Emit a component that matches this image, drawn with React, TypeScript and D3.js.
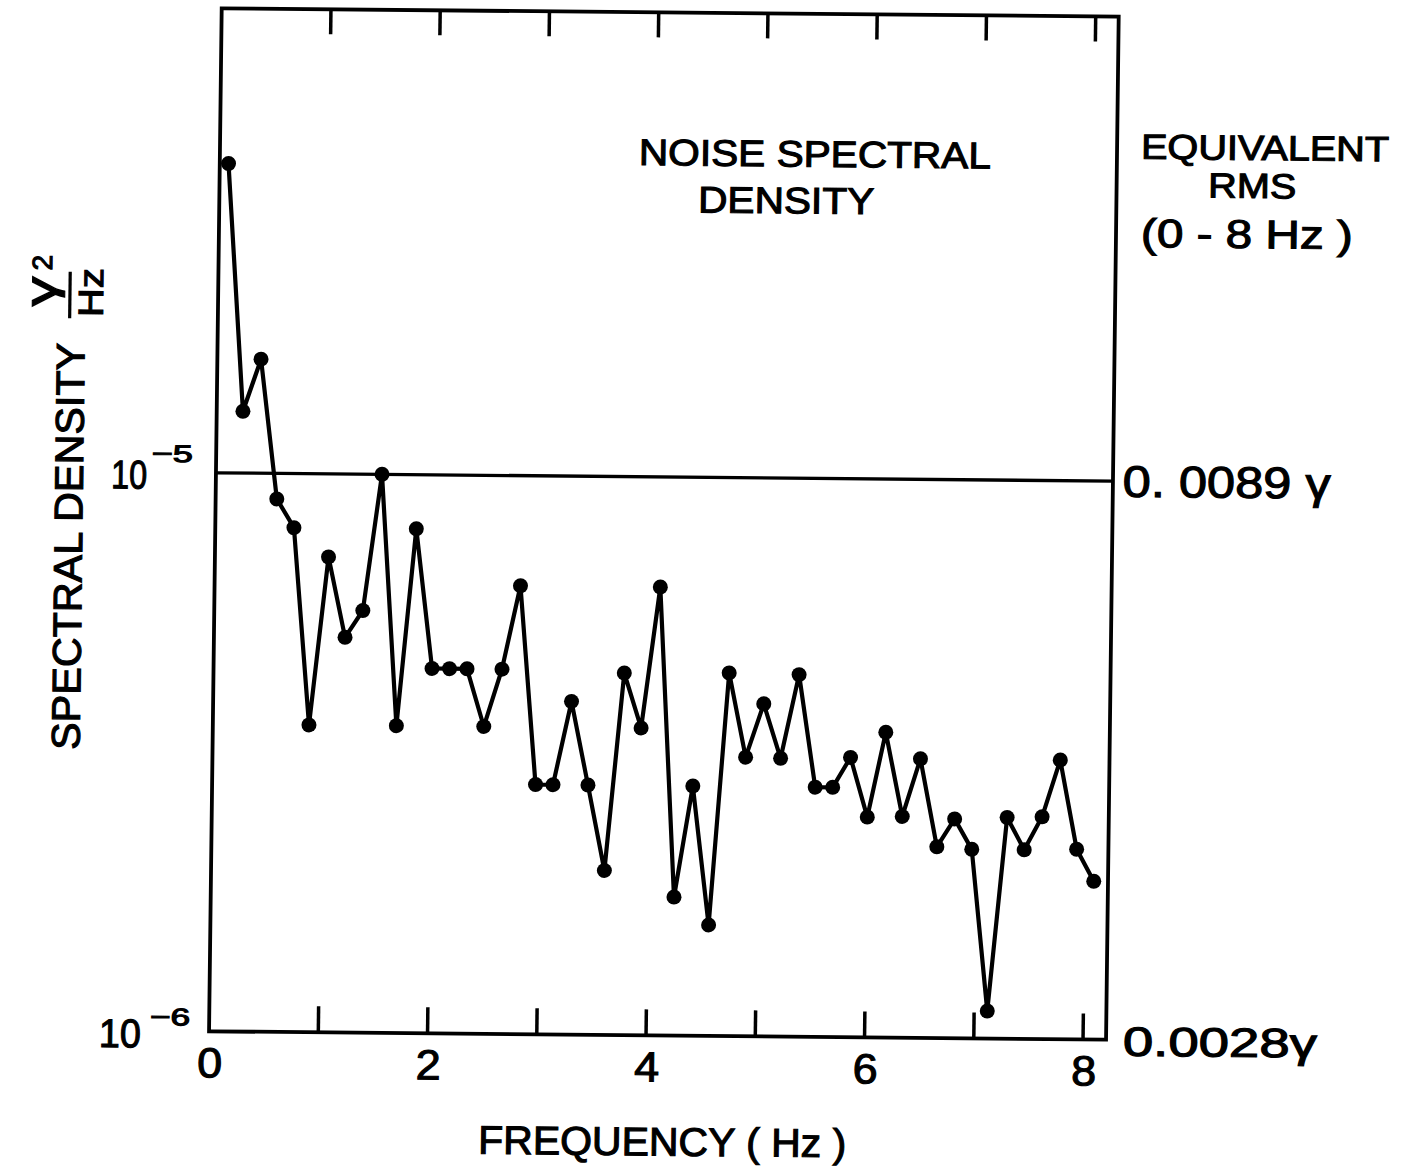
import React from 'react';
import * as d3 from 'd3';

// frequency of each plotted estimate (Hz)
const frequencies = [
  0.08, 0.24, 0.40, 0.56, 0.72, 0.88, 1.04, 1.20, 1.36, 1.52,
  1.68, 1.84, 2.00, 2.16, 2.32, 2.48, 2.64, 2.80, 2.96, 3.12,
  3.28, 3.44, 3.60, 3.76, 3.92, 4.08, 4.24, 4.40, 4.56, 4.72,
  4.88, 5.04, 5.20, 5.36, 5.52, 5.68, 5.84, 6.00, 6.16, 6.32,
  6.48, 6.64, 6.80, 6.96, 7.12, 7.28, 7.44, 7.60, 7.76, 7.92, 8.08,
];

// spectral density (gamma^2 / Hz)
const spectralDensity = [
  3.58e-5, 1.29e-5, 1.6e-5, 9.0e-6, 8.0e-6, 3.55e-6, 7.1e-6, 5.1e-6, 5.7e-6, 1.0e-5,
  3.55e-6, 8.0e-6, 4.5e-6, 4.5e-6, 4.5e-6, 3.55e-6, 4.5e-6, 6.35e-6, 2.8e-6, 2.8e-6,
  3.95e-6, 2.8e-6, 1.97e-6, 4.45e-6, 3.55e-6, 6.35e-6, 1.77e-6, 2.8e-6, 1.58e-6, 4.47e-6,
  3.16e-6, 3.94e-6, 3.15e-6, 4.45e-6, 2.8e-6, 2.8e-6, 3.17e-6, 2.48e-6, 3.52e-6, 2.49e-6,
  3.16e-6, 2.2e-6, 2.47e-6, 2.18e-6, 1.12e-6, 2.49e-6, 2.18e-6, 2.5e-6, 3.16e-6, 2.19e-6, 1.92e-6,
];

const topTicks = [1, 2, 3, 4, 5, 6, 7, 8];
const bottomTicks = [1, 2, 3, 4, 5, 6, 7, 8];
const xTickLabels = [0, 2, 4, 6, 8];
const referenceLevel = 1e-5;
const rightLabels = ['0. 0089 γ', '0.0028γ'];

const W = 897;
const H = 1023;
const FONT = "'Liberation Sans', Arial, sans-serif";

// heavier strokes, like the hand lettering of the original
const ink = { fill: '#000', stroke: '#000', strokeWidth: 1.1 };

const App: React.FC = () => {
  const x = d3.scaleLinear().domain([0, 8]).range([0, 874]);
  const y = d3.scaleLog().domain([1e-6, 1e-5]).range([H, 464.5]);

  const line = d3.line<number>()
    .x((_, i) => x(frequencies[i]))
    .y(d => y(d));

  return (
    <svg
      width={1407}
      height={1175}
      style={{ position: 'absolute', left: 0, top: 0, display: 'block' }}
      fontFamily={FONT}
    >
      <rect width={1407} height={1175} fill="#fff" />
      {/* the scanned page is slightly skewed */}
      <g transform="matrix(1 0.00931 -0.01237 1 221.7 8.3)">
        <rect x={0} y={0} width={W} height={H} fill="none" stroke="#000" strokeWidth={3.8} />

        <line x1={0} x2={W} y1={y(referenceLevel)} y2={y(referenceLevel)} stroke="#000" strokeWidth={3.3} />

        {topTicks.map(t => (
          <line key={'t' + t} x1={x(t)} x2={x(t)} y1={0} y2={25} stroke="#000" strokeWidth={3.5} />
        ))}
        {bottomTicks.map(t => (
          <line key={'b' + t} x1={x(t)} x2={x(t)} y1={H} y2={H - 26} stroke="#000" strokeWidth={3.5} />
        ))}

        <path d={line(spectralDensity) || ''} fill="none" stroke="#000" strokeWidth={4.2} strokeLinejoin="round" />
        {spectralDensity.map((d, i) => (
          <circle key={i} cx={x(frequencies[i])} cy={y(d)} r={7.5} fill="#000" />
        ))}

        {/* x tick labels */}
        {xTickLabels.map(v => (
          <text key={'l' + v} x={x(v) + 1} y={1069} fontSize={42} textAnchor="middle"
            textLength={25} lengthAdjust="spacingAndGlyphs" {...ink}>{v}</text>
        ))}
        <text x={454.5} y={1143} fontSize={40} textAnchor="middle" textLength={368} lengthAdjust="spacingAndGlyphs" {...ink}>
          FREQUENCY ( Hz )
        </text>

        {/* left decade labels */}
        <text x={-104.8} y={481} fontSize={40} textLength={36} lengthAdjust="spacingAndGlyphs" {...ink}>10</text>
        <text x={-64.4} y={454} fontSize={24} textLength={41} lengthAdjust="spacingAndGlyphs" {...ink}>−5</text>
        <text x={-110} y={1039.7} fontSize={40} textLength={42} lengthAdjust="spacingAndGlyphs" {...ink}>10</text>
        <text x={-59} y={1017.3} fontSize={24} textLength={40} lengthAdjust="spacingAndGlyphs" {...ink}>−6</text>

        {/* right rms labels */}
        <text x={906.8} y={480} fontSize={44} textLength={208} lengthAdjust="spacingAndGlyphs" {...ink}>{rightLabels[0]}</text>
        <text x={913.9} y={1039} fontSize={41} textLength={194} lengthAdjust="spacingAndGlyphs" {...ink}>{rightLabels[1]}</text>

        {/* titles */}
        <text x={595} y={152.9} fontSize={37} textAnchor="middle" textLength={352} lengthAdjust="spacingAndGlyphs" {...ink}>NOISE SPECTRAL</text>
        <text x={566.8} y={199.7} fontSize={37} textAnchor="middle" textLength={176} lengthAdjust="spacingAndGlyphs" {...ink}>DENSITY</text>
        <text x={1045} y={142} fontSize={35} textAnchor="middle" textLength={248} lengthAdjust="spacingAndGlyphs" {...ink}>EQUIVALENT</text>
        <text x={1032.6} y={180.1} fontSize={35} textAnchor="middle" textLength={88} lengthAdjust="spacingAndGlyphs" {...ink}>RMS</text>
        <text x={1027.9} y={230.1} fontSize={40} textAnchor="middle" textLength={212} lengthAdjust="spacingAndGlyphs" {...ink}>(0 - 8 Hz )</text>

        {/* y axis title, rotated */}
        <g transform="translate(-133,539.4) rotate(-90)">
          <text fontSize={40} textAnchor="middle" textLength={407} lengthAdjust="spacingAndGlyphs" {...ink}>SPECTRAL DENSITY</text>
        </g>
        <g transform="translate(-162.4,284.8) rotate(-90)">
          <text fontSize={44} textAnchor="middle" textLength={30} lengthAdjust="spacingAndGlyphs" {...ink}>γ</text>
        </g>
        <g transform="translate(-166.5,256) rotate(-90)">
          <text fontSize={28} textAnchor="middle" {...ink}>2</text>
        </g>
        <line x1={-148.2} x2={-148.2} y1={264.8} y2={311.4} stroke="#000" strokeWidth={3.2} />
        <g transform="translate(-115.2,285.5) rotate(-90)">
          <text fontSize={35} textAnchor="middle" textLength={49} lengthAdjust="spacingAndGlyphs" {...ink}>Hz</text>
        </g>
      </g>
    </svg>
  );
};

export default App;
